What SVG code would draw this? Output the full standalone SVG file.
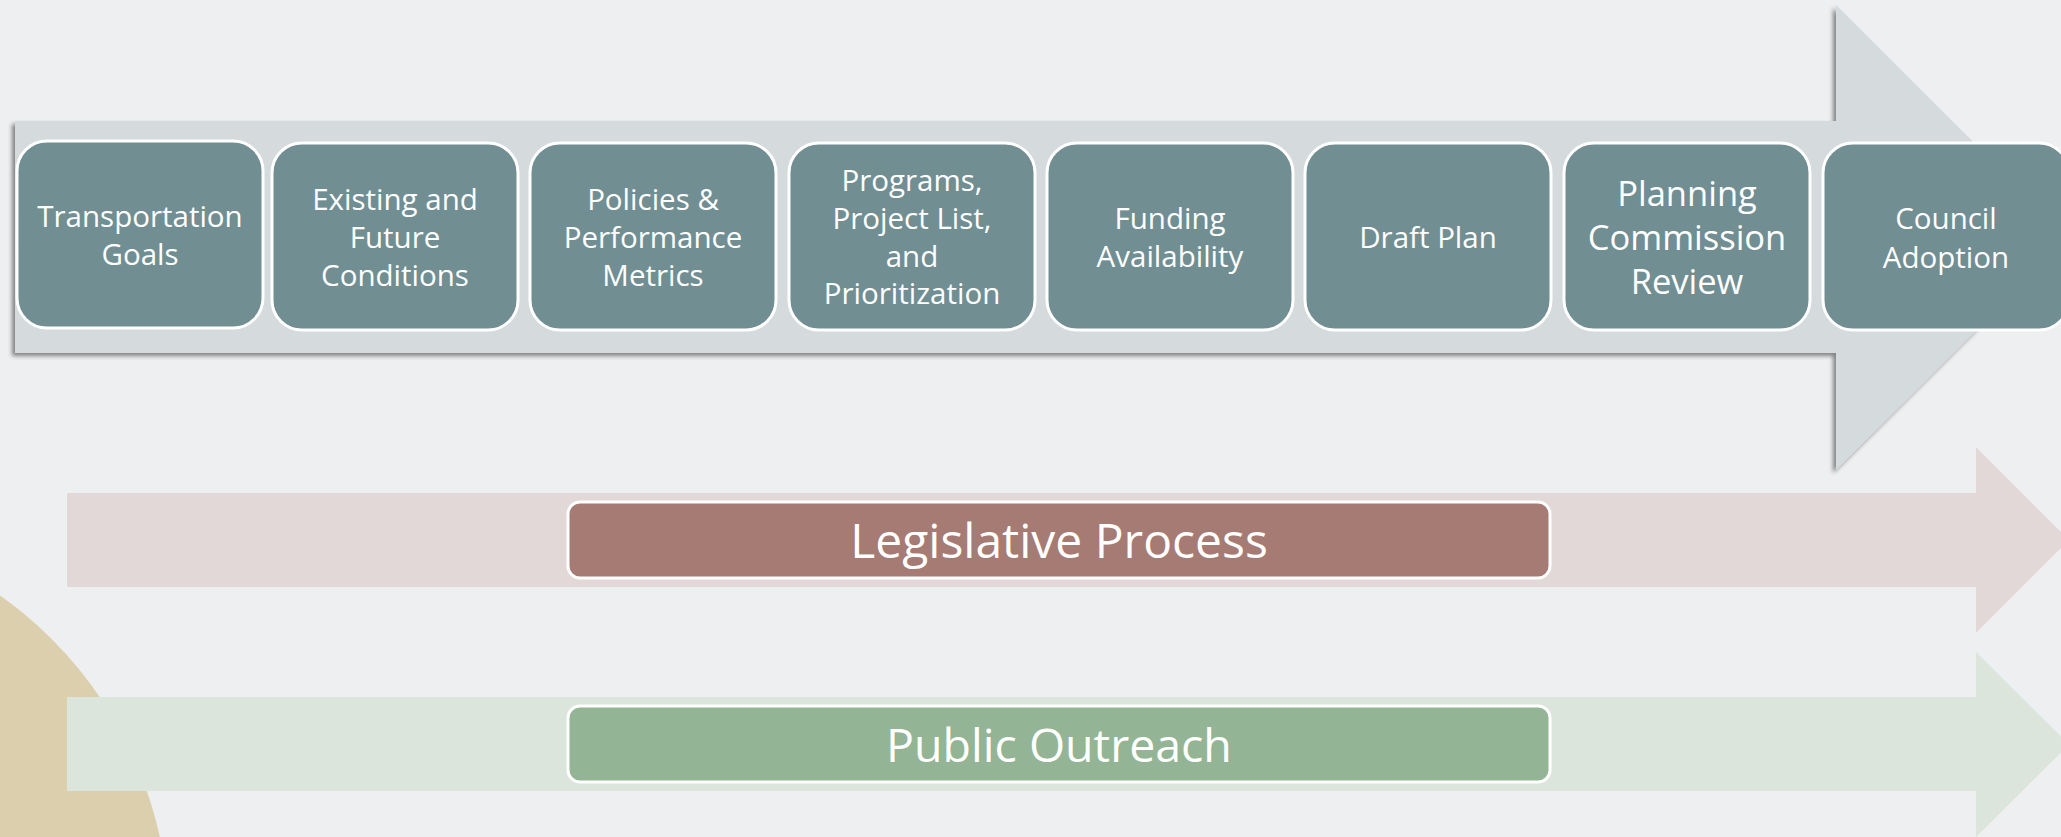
<svg xmlns="http://www.w3.org/2000/svg" width="2061" height="837" viewBox="0 0 2061 837">
  <defs>
    <filter id="shadow" x="-5%" y="-10%" width="110%" height="120%">
      <feDropShadow dx="-3" dy="3" stdDeviation="2" flood-color="#000000" flood-opacity="0.45"/>
    </filter>
    <style>
      .step { fill: #718E93; stroke: #FFFFFF; stroke-width: 3; }
      .band { stroke: #FFFFFF; stroke-width: 3; }
      .t { font-family: "Open Sans", "Noto Sans", "DejaVu Sans", sans-serif; fill: #FFFFFF; text-anchor: middle; }
      .s { font-size: 29.5px; }
      .l { font-size: 34.5px; }
      .b { font-size: 48px; }
      .b2 { font-size: 46.5px; }
    </style>
  </defs>
  <rect x="0" y="0" width="2061" height="837" fill="#EEEFF1"/>
  <circle cx="-231" cy="922" r="400" fill="#DCCFAE"/>
  <g id="arrows">
    <polygon points="15,121 1836,121 1836,5 2069,237.5 1836,470 1836,353 15,353" fill="#D5DBDD" filter="url(#shadow)"/>
    <polygon points="67,493 1976,493 1976,447 2069,540 1976,633 1976,587 67,587" fill="#E2D8D8"/>
    <polygon points="67,697 1976,697 1976,652 2069,744.5 1976,837 1976,791 67,791" fill="#DBE5DC"/>
  </g>
  <g id="step1">
    <rect class="step" x="17" y="141" width="246" height="187" rx="30"/>
    <text class="t s" x="140" y="227">Transportation</text>
    <text class="t s" x="140" y="264.5">Goals</text>
  </g>
  <g id="step2">
    <rect class="step" x="272" y="143" width="246" height="187" rx="30"/>
    <text class="t s" x="395" y="210">Existing and</text>
    <text class="t s" x="395" y="248">Future</text>
    <text class="t s" x="395" y="286">Conditions</text>
  </g>
  <g id="step3">
    <rect class="step" x="530" y="143" width="246" height="187" rx="30"/>
    <text class="t s" x="653" y="210">Policies &amp;</text>
    <text class="t s" x="653" y="248">Performance</text>
    <text class="t s" x="653" y="286">Metrics</text>
  </g>
  <g id="step4">
    <rect class="step" x="789" y="143" width="246" height="187" rx="30"/>
    <text class="t s" x="912" y="191">Programs,</text>
    <text class="t s" x="912" y="229">Project List,</text>
    <text class="t s" x="912" y="266.5">and</text>
    <text class="t s" x="912" y="304">Prioritization</text>
  </g>
  <g id="step5">
    <rect class="step" x="1047" y="143" width="246" height="187" rx="30"/>
    <text class="t s" x="1170" y="229">Funding</text>
    <text class="t s" x="1170" y="267">Availability</text>
  </g>
  <g id="step6">
    <rect class="step" x="1305" y="143" width="246" height="187" rx="30"/>
    <text class="t s" x="1428" y="248">Draft Plan</text>
  </g>
  <g id="step7">
    <rect class="step" x="1564" y="143" width="246" height="187" rx="30"/>
    <text class="t l" x="1687" y="206">Planning</text>
    <text class="t l" x="1687" y="250">Commission</text>
    <text class="t l" x="1687" y="294">Review</text>
  </g>
  <g id="step8">
    <rect class="step" x="1823" y="143" width="246" height="187" rx="30"/>
    <text class="t s" x="1946" y="229">Council</text>
    <text class="t s" x="1946" y="268">Adoption</text>
  </g>
  <g id="legislative">
    <rect class="band" x="568" y="502" width="982" height="76" rx="12" fill="#A57B74"/>
    <text class="t b" x="1059" y="558">Legislative Process</text>
  </g>
  <g id="outreach">
    <rect class="band" x="568" y="706" width="982" height="76" rx="12" fill="#93B595"/>
    <text class="t b2" x="1059" y="762">Public Outreach</text>
  </g>
</svg>
